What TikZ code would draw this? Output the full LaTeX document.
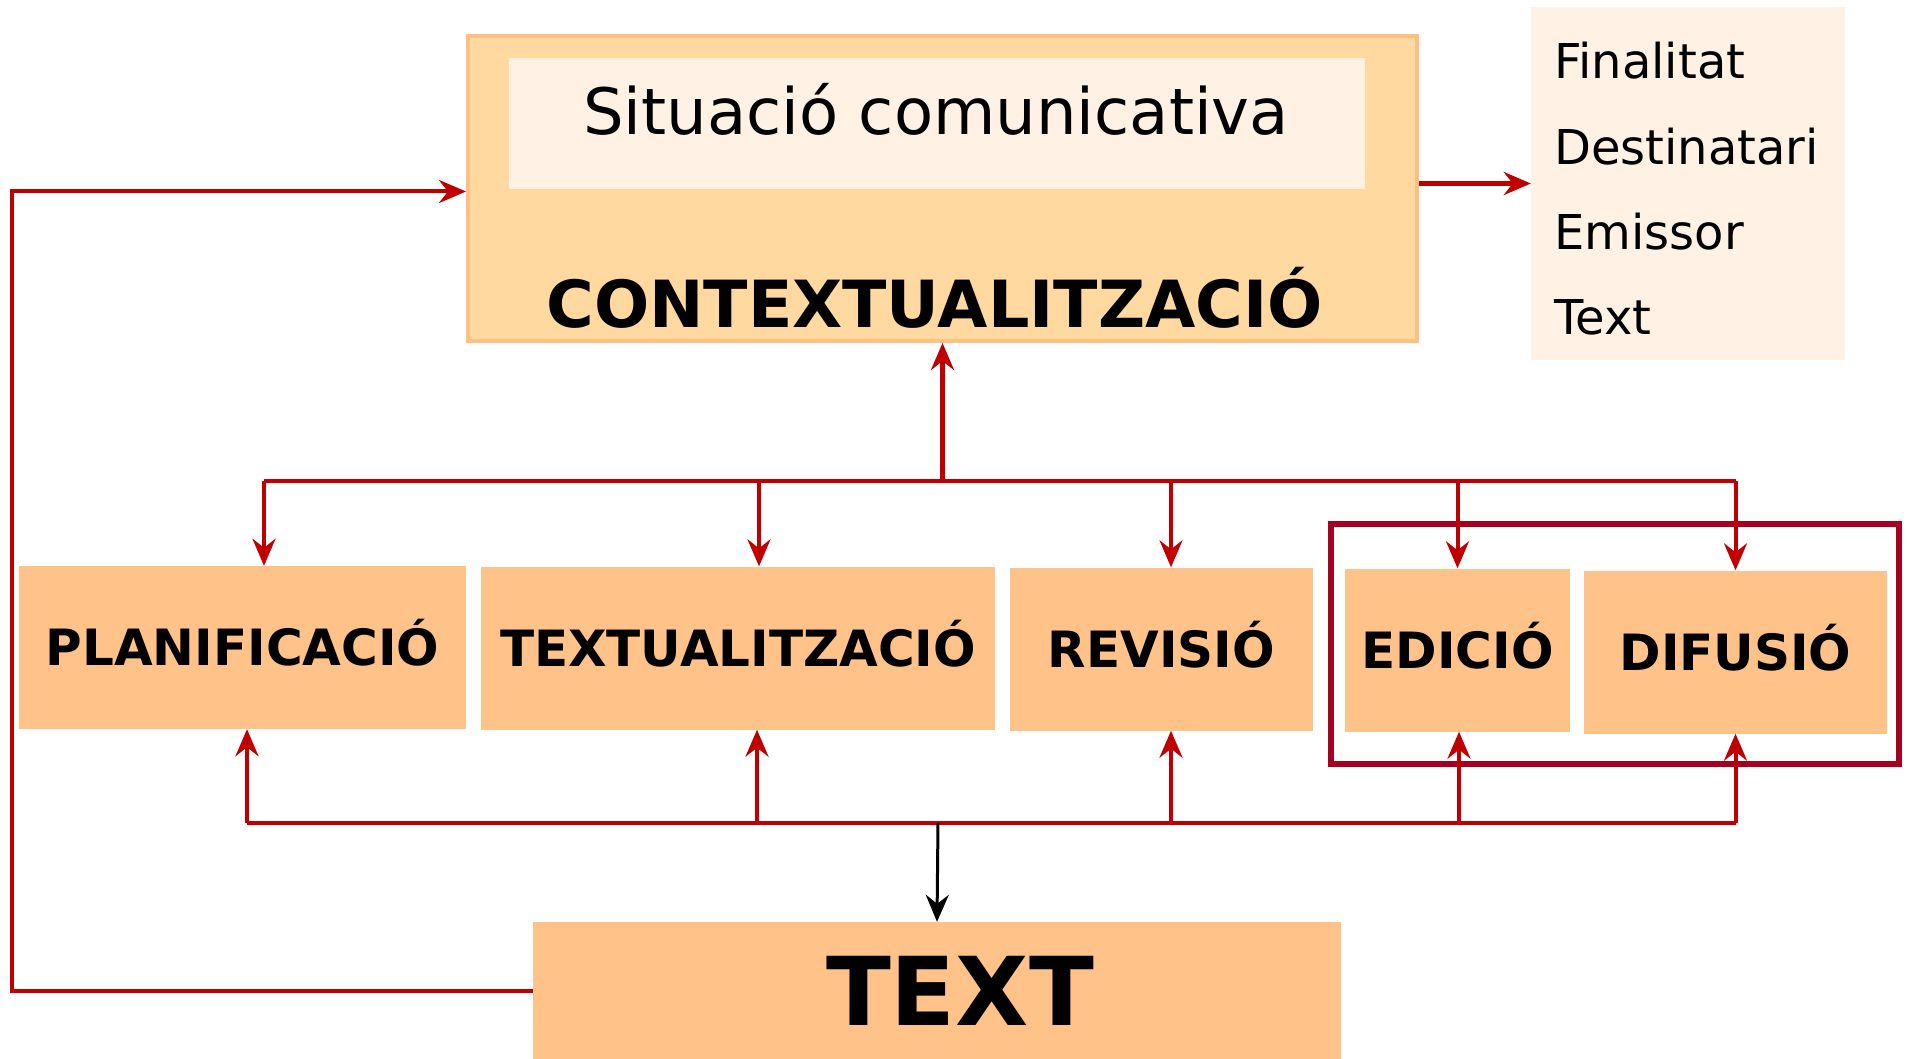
\documentclass[tikz,border=0pt]{standalone}
\usepackage{fontspec}
\setmainfont{DejaVu Sans}
\usetikzlibrary{arrows.meta}
\definecolor{ctxfill}{RGB}{255,217,160}
\definecolor{ctxborder}{RGB}{252,192,128}
\definecolor{innerfill}{RGB}{255,242,228}
\definecolor{boxfill}{RGB}{255,195,138}
\definecolor{flowred}{RGB}{192,0,0}
\definecolor{framered}{RGB}{165,0,33}
\begin{document}
\begin{tikzpicture}[x=1pt, y=-1pt]
    \tikzstyle{phase}=[fill=boxfill, minimum height=163pt, inner sep=0pt, text height=36pt, text depth=0pt, font=\fontsize{50}{60}\selectfont\bfseries]
    \tikzstyle{flow}=[draw=flowred, line width=4pt, -{Stealth[length=27pt,width=23pt,inset=9pt]}]
    \tikzstyle{bus}=[draw=flowred, line width=4pt]
    \useasboundingbox (0,0) rectangle (1908,1059);
    % context block
    \node[draw=ctxborder, line width=4pt, fill=ctxfill, minimum width=949pt, minimum height=305pt] (ctx) at (942.5,188.5) {};
    \node[fill=innerfill, minimum width=856pt, minimum height=131pt] (sit) at (937,123.5) {};
    \node[font=\fontsize{64}{77}\selectfont] (sitlabel) at (936,109.5) {Situació comunicativa};
    \node[font=\fontsize{65}{78}\selectfont\bfseries] (ctxlabel) at (934.5,297.5) {CONTEXTUALITZACIÓ};
    \node[fill=innerfill, minimum width=314pt, minimum height=353pt] (info) at (1688,183.5) {};
    \foreach \word [count=\i] in {Finalitat, Destinatari, Emissor, Text}
      \node[anchor=base west, inner sep=0pt, font=\fontsize{48}{58}\selectfont] (item\i) at (1554,{79+85.2*(\i-1)}) {\word};
    % phases
    \node[draw=framered, line width=6pt, minimum width=568pt, minimum height=240pt] (group) at (1615,644) {};
    \node[phase, minimum width=447pt] (plan) at (242.5,647.5) {PLANIFICACIÓ};
    \node[phase, minimum width=514pt] (textu) at (738,648) {TEXTUALITZACIÓ};
    \node[phase, minimum width=303pt] (rev) at (1161.5,649) {REVISIÓ};
    \node[phase, minimum width=225pt] (edi) at (1457.5,650) {EDICIÓ};
    \node[phase, minimum width=303pt] (dif) at (1735.5,652) {DIFUSIÓ};
    \node[fill=boxfill, minimum width=808pt, minimum height=138pt, inner sep=0pt, text height=69pt, text depth=0pt, font=\fontsize{95}{114}\selectfont\bfseries] (txt) at (937,991) {\hspace*{46pt}TEXT};
    % connectors
    \coordinate (topbus) at (942.5,481);
    \coordinate (botbus) at (938,823);
    \coordinate (loopx) at (12,600);
    \draw[flow, line width=5pt] (topbus) -- (ctx.south);
    \draw[bus] ([xshift=21.5pt]plan.north |- topbus) -- (dif.north |- topbus);
    \foreach \n/\dx in {plan/21.5, textu/21, rev/9.5, edi/0, dif/0}
      \draw[flow] ([xshift=\dx pt]\n.north |- topbus) -- ([xshift=\dx pt]\n.north);
    \draw[bus] ([xshift=4.5pt]plan.south |- botbus) -- (dif.south |- botbus);
    \foreach \n/\dx in {plan/4.5, textu/19, rev/9.5, edi/1.5, dif/0}
      \draw[flow] ([xshift=\dx pt]\n.south |- botbus) -- ([xshift=\dx pt]\n.south);
    \draw[flow, draw=black, line width=3pt] (botbus) -- (txt.north);
    \draw[flow] (txt.west) -- (txt.west -| loopx) |- ([yshift=-3pt]ctx.west);
    \draw[flow, line width=5pt] (ctx.east |- info.west) -- (info.west);
\end{tikzpicture}
\end{document}
